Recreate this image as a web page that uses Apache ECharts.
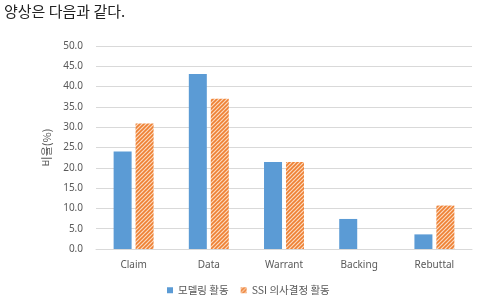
<!DOCTYPE html>
<html><head><meta charset="utf-8">
<script src="https://cdn.jsdelivr.net/npm/echarts@6/dist/echarts.min.js"></script>
<style>html,body{margin:0;padding:0;background:#fff}#c{width:483px;height:302px}</style>
</head><body><div id="c"></div>
<script>
const categories = ['Claim', 'Data', 'Warrant', 'Backing', 'Rebuttal'];
const modelingValues = [24.0, 43.1, 21.4, 7.4, 3.6];
const ssiValues = [30.9, 37.0, 21.4, 0, 10.7];
const seriesNames = ['모델링 활동', 'SSI 의사결정 활동'];
const yAxisTitle = '비율(%)';
const headerText = '양상은 다음과 같다.';

function makePattern() {
  const c = document.createElement('canvas');
  c.width = 4; c.height = 4;
  const g = c.getContext('2d');
  g.fillStyle = '#fbd9bf';
  g.fillRect(0, 0, 4, 4);
  g.strokeStyle = '#ee8033';
  g.lineWidth = 1.6;
  g.beginPath();
  g.moveTo(0, 4); g.lineTo(4, 0);
  g.moveTo(-1, 1); g.lineTo(1, -1);
  g.moveTo(3, 5); g.lineTo(5, 3);
  g.stroke();
  return c;
}
const pat = { image: makePattern(), repeat: 'repeat' };

const chart = echarts.init(document.getElementById('c'), null, { renderer: 'canvas' });
const font = '"Noto Sans", "Noto Sans CJK KR", sans-serif';
chart.setOption({
  animation: false,
  textStyle: { fontFamily: font },
  graphic: [{
    type: 'text', left: 4, top: 4,
    style: { text: headerText, fontSize: 15, fill: '#222', fontFamily: '"Noto Sans CJK KR", sans-serif' }
  }],
  grid: { left: 96, right: 11, top: 46, bottom: 53, containLabel: false },
  legend: {
    left: 162, top: 280, itemWidth: 6, itemHeight: 6, itemGap: 12,
    icon: 'rect',
    textStyle: { fontSize: 10.5, color: '#595959', fontFamily: '"Noto Sans CJK KR", sans-serif' },
    data: seriesNames
  },
  xAxis: {
    type: 'category', data: categories,
    axisLine: { lineStyle: { color: '#d9d9d9' } },
    axisTick: { show: false },
    axisLabel: { color: '#595959', fontSize: 10, margin: 11 }
  },
  yAxis: {
    type: 'value', min: 0, max: 50, interval: 5,
    name: yAxisTitle, nameLocation: 'middle', nameGap: 40,
    nameTextStyle: { color: '#595959', fontSize: 11, fontFamily: '"Noto Sans CJK KR", sans-serif' },
    axisLine: { show: false }, axisTick: { show: false },
    splitLine: { lineStyle: { color: '#d9d9d9' } },
    axisLabel: { color: '#595959', fontSize: 10, margin: 13, formatter: v => v.toFixed(1) }
  },
  series: [
    { name: seriesNames[0], type: 'bar', data: modelingValues, barWidth: 18, barGap: '22%',
      itemStyle: { color: '#5b9bd5' } },
    { name: seriesNames[1], type: 'bar', data: ssiValues, barWidth: 18,
      itemStyle: { color: pat } }
  ]
});
</script></body></html>
